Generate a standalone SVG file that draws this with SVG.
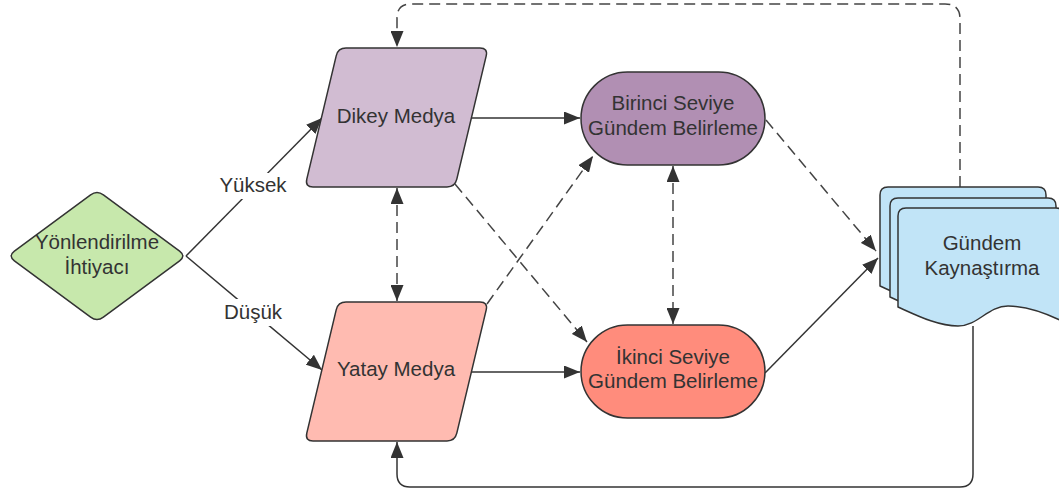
<svg xmlns="http://www.w3.org/2000/svg" width="1059" height="494" viewBox="0 0 1059 494">
<style>
.shape{stroke:#333333;stroke-width:1.5;stroke-linejoin:round}
.lbl{font-family:"Liberation Sans",Arial,sans-serif;font-size:20.5px;fill:#333333;text-anchor:middle}
.conn{fill:none;stroke:#333333;stroke-width:1.5}
.dash{stroke:#444444;stroke-dasharray:11,6}
</style>
<defs>
<marker id="arr" markerUnits="userSpaceOnUse" markerWidth="17" markerHeight="13" refX="16" refY="6.5" orient="auto-start-reverse">
<path d="M0,0 L16,6.5 L0,13 Z" fill="#333333"/>
</marker>
<path id="doc" d="M0,99 C20,108 40,118 60,118 C80,118 90,98 110,98 C130,98 150,106 166,114 L166,8 Q166,0 158,0 L8,0 Q0,0 0,8 Z"/>
</defs>
<rect width="1059" height="494" fill="#ffffff"/>
<g id="connectors">
<path class="conn" d="M186,256 L322,118" marker-end="url(#arr)"/>
<path class="conn" d="M186,256 L322,370" marker-end="url(#arr)"/>
<path class="conn" d="M471,118 L580,118" marker-end="url(#arr)"/>
<path class="conn" d="M471,372 L580,372" marker-end="url(#arr)"/>
<path class="conn dash" d="M397,188 L397,301" marker-start="url(#arr)" marker-end="url(#arr)"/>
<path class="conn dash" d="M673,166 L673,324" marker-start="url(#arr)" marker-end="url(#arr)"/>
<path class="conn dash" d="M455,184 L587,342" marker-end="url(#arr)"/>
<path class="conn dash" d="M487,304 L593,156" marker-end="url(#arr)"/>
<path class="conn dash" d="M766,120 L876,251" marker-end="url(#arr)"/>
<path class="conn" d="M765,373 L878,258" marker-end="url(#arr)"/>
<path class="conn dash" d="M960,187 L960,19 Q960,4 945,4 L411,4 Q397,4 397,18 L397,47" marker-end="url(#arr)"/>
<path class="conn" d="M973,326 L973,474 Q973,487 960,487 L410,487 Q397,487 397,474 L397,442" marker-end="url(#arr)"/>
<rect x="217" y="173" width="72" height="26" fill="#ffffff"/>
<text class="lbl" x="253" y="192">Yüksek</text>
<rect x="220" y="299" width="66" height="27" fill="#ffffff"/>
<text class="lbl" x="253" y="319">Düşük</text>
</g>
<g id="node-yonlendirilme">
<path class="shape" fill="#c7e8ac" d="M14.4,251.2 L90.6,194.8 Q97,190 103.4,194.8 L179.6,251.2 Q186,256 179.6,260.8 L103.4,317.2 Q97,322 90.6,317.2 L14.4,260.8 Q8,256 14.4,251.2 Z"/>
<text class="lbl" x="97" y="249">Yönlendirilme</text>
<text class="lbl" x="97" y="274">İhtiyacı</text>
</g>
<g id="node-dikey">
<path class="shape" fill="#d1bcd2" d="M346,48 L480,48 Q488,48 486.2,55.8 L456.8,179.2 Q455,187 447,187 L313,187 Q305,187 306.8,179.2 L336.2,55.8 Q338,48 346,48 Z"/>
<text class="lbl" x="396" y="123">Dikey Medya</text>
</g>
<g id="node-yatay">
<path class="shape" fill="#ffbbb1" d="M346,302 L480,302 Q488,302 486.2,309.8 L456.8,433.2 Q455,441 447,441 L313,441 Q305,441 306.8,433.2 L336.2,309.8 Q338,302 346,302 Z"/>
<text class="lbl" x="396" y="376">Yatay Medya</text>
</g>
<g id="node-birinci">
<rect class="shape" fill="#b18fb3" x="581" y="72" width="184" height="93" rx="46.5" ry="46.5"/>
<text class="lbl" x="673" y="110">Birinci Seviye</text>
<text class="lbl" x="673" y="135">Gündem Belirleme</text>
</g>
<g id="node-ikinci">
<rect class="shape" fill="#ff8c7c" x="581" y="325" width="184" height="93" rx="46.5" ry="46.5"/>
<text class="lbl" x="673" y="364">İkinci Seviye</text>
<text class="lbl" x="673" y="388">Gündem Belirleme</text>
</g>
<g id="node-gundem">
<use href="#doc" class="shape" fill="#c1e4f7" x="880" y="187"/>
<use href="#doc" class="shape" fill="#c1e4f7" x="890" y="198"/>
<use href="#doc" class="shape" fill="#c1e4f7" x="898" y="208"/>
<text class="lbl" x="982" y="250">Gündem</text>
<text class="lbl" x="982" y="275">Kaynaştırma</text>
</g>
</svg>
